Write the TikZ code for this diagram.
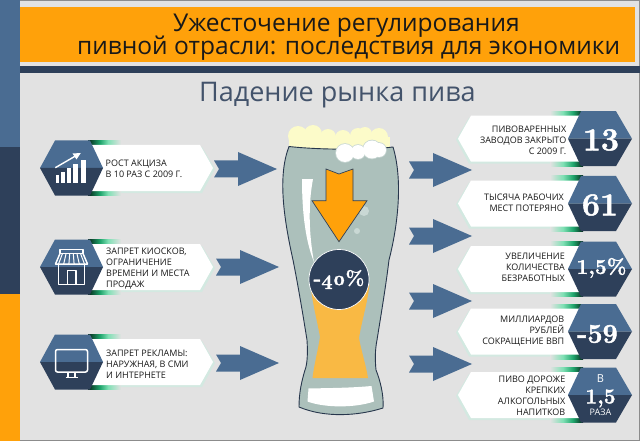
\documentclass[tikz,border=0pt]{standalone}
\usepackage{fontspec}
\newfontfamily\opensans{Open Sans}
\newfontfamily\chiffres{Latin Modern Roman}[BoldFeatures={FakeBold=1.6}]
\usetikzlibrary{positioning}
\definecolor{fondgris}{HTML}{E2E2E2}
\definecolor{bleu}{HTML}{4A6C92}
\definecolor{marine}{HTML}{2E405A}
\definecolor{orange}{HTML}{FFA10A}
\definecolor{menthe}{HTML}{D3E9E1}
\definecolor{verre}{HTML}{ACC0BB}
\definecolor{biere}{HTML}{F9B944}
\definecolor{mousse}{HTML}{FCFBC9}
\definecolor{bulle}{HTML}{C9D8D4}
\definecolor{vertfonce}{HTML}{06281A}
\definecolor{vertmoyen}{HTML}{1FA56C}
\definecolor{vertclair}{HTML}{7FE0B4}

\begin{document}
\begin{tikzpicture}[x=1pt,y=-1pt]
\tikzset{
  titre/.style={anchor=base west, inner sep=0, text=black!90, font=\opensans\fontsize{24.5}{28}\selectfont},
  legende/.style={inner sep=0, text=black!90, font=\opensans\fontsize{9}{11}\selectfont},
  chiffre/.style={inner sep=0, text=white, font=\chiffres\fontsize{#1}{#1}\selectfont\bfseries},
  icone/.style={draw=white, line width=1.5pt, line join=round},
  flechebleue/.pic={
    \fill[bleu] (0,0) -- (-39,-17) -- (-39,-8.5) -- (-63,-8.5) -- (-58,0) -- (-63,8.5) -- (-39,8.5) -- (-39,17) -- cycle;
  },
  hexgauche/.pic={
    \fill[menthe] (53,-21) -- (162,-21) -- (175,1) -- (162,25) -- (53,25) -- cycle;
    \shade[left color=vertfonce, right color=vertmoyen] (48,-27.5) rectangle (60,-23);
    \shade[left color=vertmoyen, right color=vertclair] (60,-27.5) rectangle (68,-23);
    \shade[left color=vertclair, right color=fondgris] (68,-27.5) rectangle (81,-23);
    \shade[left color=vertfonce, right color=vertmoyen] (48,23) rectangle (60,27.5);
    \shade[left color=vertmoyen, right color=vertclair] (60,23) rectangle (68,27.5);
    \shade[left color=vertclair, right color=fondgris] (68,23) rectangle (81,27.5);
    \fill[white] (50,-23) -- (160,-23) -- (173,0) -- (160,23) -- (50,23) -- (63,0) -- cycle;
    \fill[bleu] (0,0) -- (15,-27.5) -- (50,-27.5) -- (63,0) -- cycle;
    \fill[marine] (0,0) -- (15,27.5) -- (50,27.5) -- (63,0) -- cycle;
  },
  hexdroit/.pic={
    \fill[menthe] (-54,-21) -- (-163,-21) -- (-176,1) -- (-163,25) -- (-54,25) -- cycle;
    \shade[right color=vertfonce, left color=vertmoyen] (-49,-27.5) rectangle (-59,-23);
    \shade[right color=vertmoyen, left color=vertclair] (-59,-27.5) rectangle (-69,-23);
    \shade[right color=vertclair, left color=fondgris] (-69,-27.5) rectangle (-82,-23);
    \shade[right color=vertfonce, left color=vertmoyen] (-49,23) rectangle (-59,27.5);
    \shade[right color=vertmoyen, left color=vertclair] (-59,23) rectangle (-69,27.5);
    \shade[right color=vertclair, left color=fondgris] (-69,23) rectangle (-82,27.5);
    \fill[white] (-51,-23) -- (-161,-23) -- (-174,0) -- (-161,23) -- (-51,23) -- (-64,0) -- cycle;
    \fill[bleu] (0,0) -- (-16,-27.5) -- (-51,-27.5) -- (-64,0) -- cycle;
    \fill[marine] (0,0) -- (-16,27.5) -- (-51,27.5) -- (-64,0) -- cycle;
  }
}
\useasboundingbox (0,0) rectangle (640,441);
% fond et bandeaux
\fill[fondgris] (0,0) rectangle (640,441);
\draw[black!45, line width=0.8pt] (0,0.4) -- (640,0.4) (639.6,0) -- (639.6,441) (0,440.6) -- (640,440.6);
\fill[bleu] (0,0) rectangle (20,147);
\fill[marine] (0,147) rectangle (20,294);
\fill[orange] (0,294) rectangle (20,441);
\fill[orange] (20,7) rectangle (635,62);
\fill[marine] (20,66) rectangle (640,73);
\node[titre] (T1) at (173,32) {Ужесточение регулирования};
\node[titre] (T2) at (77,55) {пивной отрасли: последствия для экономики};
\node[titre, text=marine!90!white, font=\opensans\fontsize{27}{30}\selectfont] (T3) at (199,102) {Падение рынка пива};
% partie gauche
\pic at (40,168) {hexgauche};
\pic at (40,267) {hexgauche};
\pic at (40,362) {hexgauche};
\node[legende, anchor=west, align=left] (L1) at (105.5,169) {РОСТ АКЦИЗА\\В 10 РАЗ С 2009 Г.};
\node[legende, anchor=west, align=left] (L2) at (106,269) {ЗАПРЕТ КИОСКОВ,\\ОГРАНИЧЕНИЕ\\ВРЕМЕНИ И МЕСТА\\ПРОДАЖ};
\node[legende, anchor=west, align=left] (L3) at (106,364) {ЗАПРЕТ РЕКЛАМЫ:\\НАРУЖНАЯ, В СМИ\\И ИНТЕРНЕТЕ};
\pic at (277,169) {flechebleue};
\pic at (279,267) {flechebleue};
\pic at (279,363) {flechebleue};
% icones
\fill[white] (55.5,175) rectangle (59,183);
\fill[white] (61,172) rectangle (65,183);
\fill[white] (67,168.5) rectangle (71,183);
\fill[white] (73,164.5) rectangle (77.5,183);
\fill[white] (81,160.5) rectangle (86,183);
\draw[white, line width=1.4pt] (55.3,167.7) -- (76,155.7);
\fill[white] (80.8,153) -- (72.5,153.5) -- (76.5,159.5) -- cycle;
\draw[icone] (60,249.5) rectangle (83,253.5);
\draw[icone] (60,253.5) -- (55.5,264) -- (87.5,264) -- (83,253.5);
\foreach \i in {0,1,2,3,4,5} {\draw[white, line width=1pt] ({62.5+\i*3.6},253.5) -- ({58.5+\i*5.2},264);}
\draw[icone] (58.5,264) -- (58.5,284.5) -- (84.5,284.5) -- (84.5,264);
\draw[icone] (67.5,284.5) -- (67.5,270.5) -- (76,270.5) -- (76,284.5);
\draw[icone, rounded corners=2pt] (55.5,349.5) rectangle (87.5,372);
\draw[icone] (68,372) -- (68,377) (75,372) -- (75,377) (65.5,377.5) -- (77.5,377.5);
% verre
\fill[mousse] (289,137) rectangle (390,149);
\foreach \x/\y/\r in {298/136/10, 313/134/9, 328/137/8, 343/138/8, 358/136/8, 365/134/7, 379/137/9} {\fill[mousse] (\x,\y) circle (\r);}
\fill[verre] (289,146.5) .. controls (278,175) and (283,215) .. (293,260) .. controls (298,285) and (303,315) .. (307,340) .. controls (308,355) and (307,365) .. (305,370) .. controls (302,380) and (299,392) .. (299,407) .. controls (325,418) and (358,416) .. (383,408) .. controls (384,395) and (380,380) .. (376,370) .. controls (375,360) and (375,350) .. (377,340) .. controls (381,315) and (386,285) .. (389,260) .. controls (398,225) and (403,180) .. (393,147) .. controls (370,150) and (320,150) .. (289,146.5) -- cycle;
\draw[marine!85!black, line width=0.9pt] (289,146.5) .. controls (278,175) and (283,215) .. (293,260) .. controls (298,285) and (303,315) .. (307,340) .. controls (308,355) and (307,365) .. (305,370) .. controls (302,380) and (299,392) .. (299,407) .. controls (325,418) and (358,416) .. (383,408) .. controls (384,395) and (380,380) .. (376,370) .. controls (375,360) and (375,350) .. (377,340) .. controls (381,315) and (386,285) .. (389,260) .. controls (398,225) and (403,180) .. (393,147) .. controls (370,150) and (320,150) .. (289,146.5) -- cycle;
\fill[white] (302,179) -- (313,179) .. controls (308,205) and (309,235) .. (314,262) .. controls (305,240) and (302,210) .. (302,179) -- cycle;
\fill[biere] (311,290) .. controls (314,310) and (318,325) .. (320,337) .. controls (318,350) and (314,365) .. (312.5,378) .. controls (330,378) and (350,378) .. (368,378) .. controls (366,365) and (361,350) .. (359,338) .. controls (362,320) and (367,305) .. (369.5,285) -- cycle;
\fill[white] (308.5,388.5) .. controls (330,388) and (350,388) .. (371.5,386) -- (374,401.5) .. controls (355,408) and (325,408) .. (307.5,401.5) -- cycle;
\foreach \x/\y/\r in {345/153/9.8, 358/152/7.8, 372/149.5/9.8, 379/150/7.8} {\fill[bulle] (\x,\y) circle (\r);}
\foreach \x/\y/\r in {345/153/9, 358/152/7, 372/149.5/9, 379/150/7} {\fill[white] (\x,\y) circle (\r);}
\fill[bulle] (364,211) circle (5);
\fill[bulle] (357,231) circle (3);
\draw[fill=orange, draw=marine, line width=0.7pt] (326,169) -- (339,174) -- (353,169) -- (353,200.7) -- (367,200.7) -- (339,241.7) -- (312,200.7) -- (326,200.7) -- cycle;
\node[circle, fill=marine, draw=white, line width=0.7pt, minimum size=60pt, inner sep=0, text=white, font=\chiffres\fontsize{20}{20}\selectfont\bfseries\addfontfeature{Numbers=OldStyle}] (C1) at (339,279.5) {-40\%};
% partie droite
\pic at (632,138.7) {hexdroit};
\pic at (632,203.5) {hexdroit};
\pic at (632,269) {hexdroit};
\pic at (632,331.5) {hexdroit};
\pic at (632,395) {hexdroit};
\node[legende, anchor=east, align=right] (R1) at (566.5,140) {ПИВОВАРЕННЫХ\\ЗАВОДОВ ЗАКРЫТО\\С 2009 Г.};
\node[legende, anchor=east, align=right] (R2) at (564,203) {ТЫСЯЧА РАБОЧИХ\\МЕСТ ПОТЕРЯНО};
\node[legende, anchor=east, align=right] (R3) at (565,267) {УВЕЛИЧЕНИЕ\\КОЛИЧЕСТВА\\БЕЗРАБОТНЫХ};
\node[legende, anchor=east, align=right] (R4) at (564.5,331) {МИЛЛИАРДОВ\\РУБЛЕЙ\\СОКРАЩЕНИЕ ВВП};
\node[legende, anchor=east, align=right] (R5) at (565.5,396) {ПИВО ДОРОЖЕ\\КРЕПКИХ\\АЛКОГОЛЬНЫХ\\НАПИТКОВ};
\node[chiffre=32] (N1) at (601,140) {13};
\node[chiffre=32] (N2) at (600,205) {61};
\node[chiffre=21] (N3) at (601.5,268) {1,5\%};
\node[chiffre=27] (N4) at (597.5,334) {-59};
\node[chiffre=11, font=\opensans\fontsize{11}{11}\selectfont, text=white] (N5) at (600.5,379) {В};
\node[chiffre=21] (N6) at (600.5,398.5) {1,5};
\node[chiffre=9, font=\opensans\fontsize{9}{9}\selectfont, text=white] (N7) at (600.5,412.5) {РАЗА};
\pic at (472,170) {flechebleue};
\pic at (472,236) {flechebleue};
\pic at (472,301) {flechebleue};
\pic at (472,364) {flechebleue};
\end{tikzpicture}
\end{document}
